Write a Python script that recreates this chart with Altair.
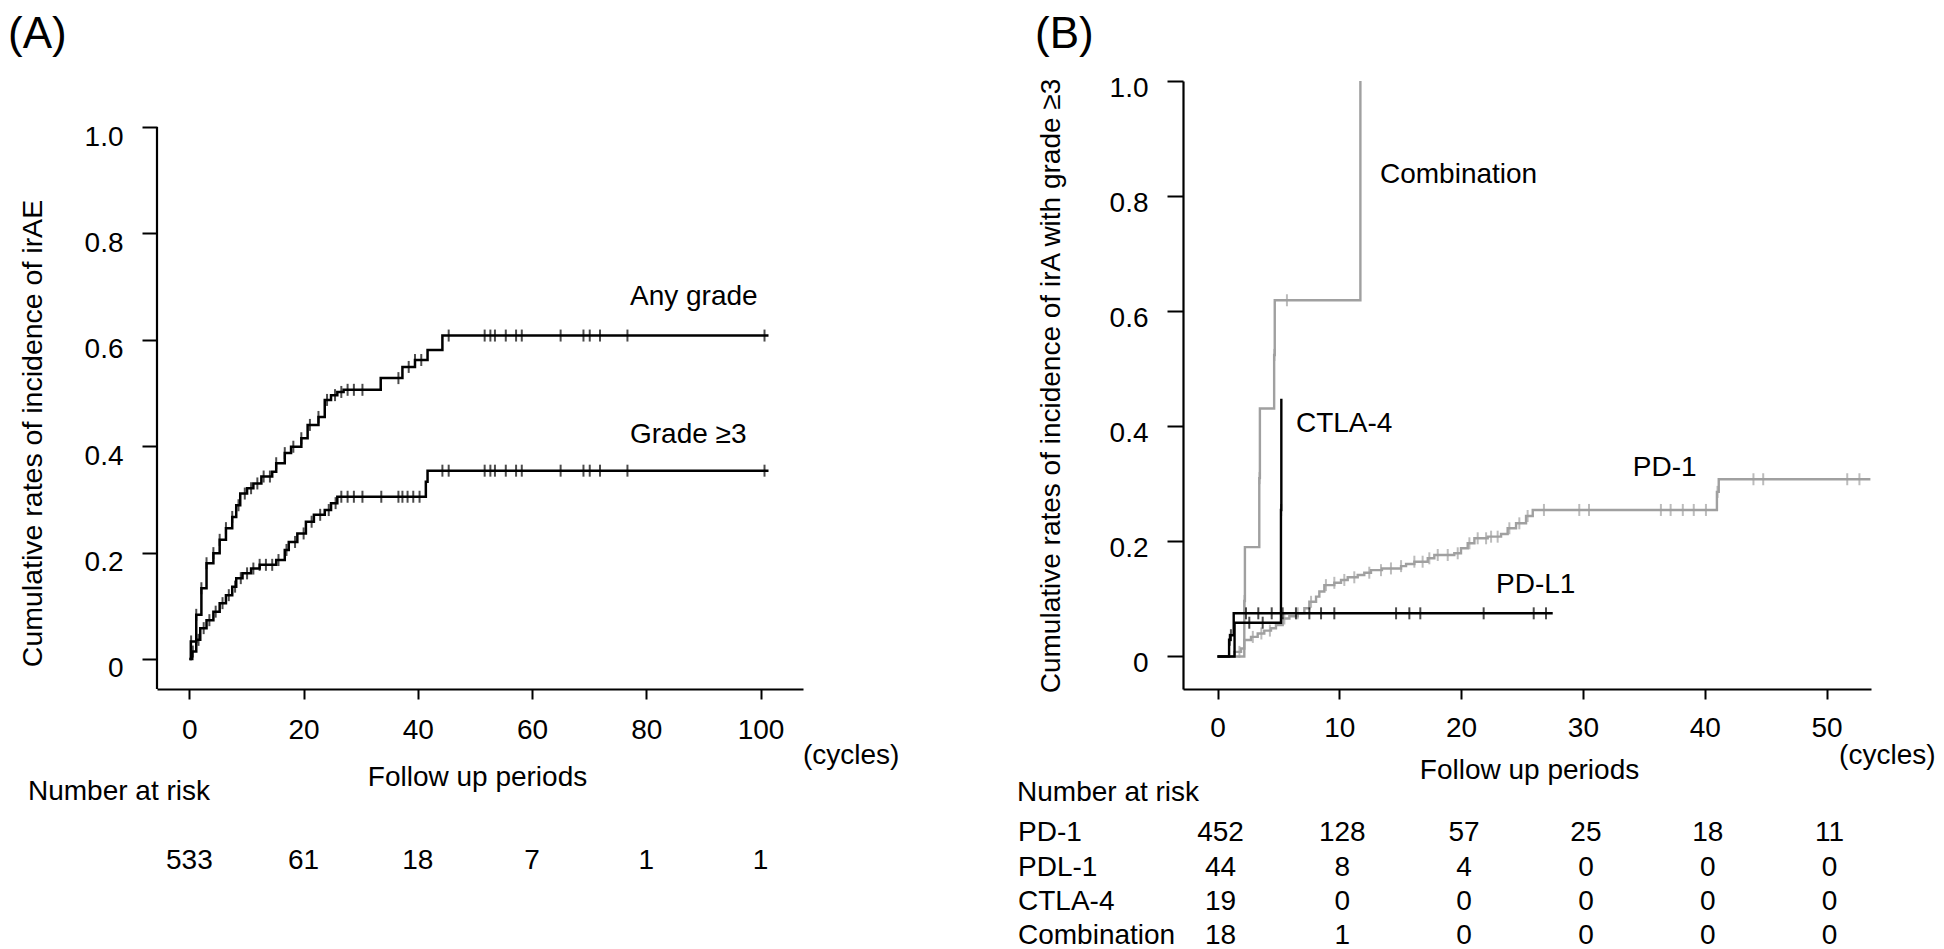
import altair as alt
import pandas as pd

FONT = "Liberation Sans"
GRAY = "#a0a0a0"

# ---------------- Panel A data ----------------
a_any_t = [0, 0.25, 1.2, 2.1, 3.0, 4.2, 5.3, 6.4, 7.5, 8.2, 8.9, 10.1, 11.2, 12.6, 14.5, 15.2,
           16.7, 17.8, 19.6, 20.7, 22.6, 23.7, 24.8, 25.9, 27.0, 33.5, 37.3, 39.5, 41.7, 44.3, 101.4]
a_any_v = [0, 0.033, 0.083, 0.133, 0.18, 0.199, 0.224, 0.246, 0.267, 0.289, 0.311, 0.321, 0.330,
           0.343, 0.352, 0.368, 0.387, 0.399, 0.415, 0.44, 0.455, 0.487, 0.496, 0.502, 0.506, 0.528,
           0.549, 0.562, 0.581, 0.608, 0.608]
a_any_cens = [0.3, 1.2, 2.1, 3.0, 4.2, 5.3, 6.4, 7.5, 8.6, 9.7, 10.8, 11.9, 13.0, 14.1, 15.2, 16.7,
              18.2, 19.6, 21.1, 22.6, 24.1, 25.5, 26.6, 27.7, 28.8, 30.3, 36.6, 38.4, 39.5, 40.6,
              45.4, 51.7, 52.7, 53.5, 55.4, 57.2, 58.2, 65.0, 69.0, 70.1, 71.9, 76.7, 100.7]

a_g3_t = [0, 0.5, 1.2, 1.9, 3.0, 4.2, 5.3, 6.4, 7.5, 8.2, 9.3, 10.8, 12.3, 15.2, 16.7, 17.4, 18.9,
          20.4, 21.8, 23.7, 24.8, 25.9, 41.4, 41.7, 101.4]
a_g3_v = [0, 0.014, 0.036, 0.058, 0.073, 0.089, 0.105, 0.12, 0.136, 0.152, 0.161, 0.17, 0.177,
          0.186, 0.205, 0.22, 0.236, 0.258, 0.271, 0.28, 0.293, 0.305, 0.333, 0.354, 0.354]
a_g3_cens = [0.6, 1.6, 2.5, 3.5, 4.6, 5.8, 6.9, 8.0, 9.0, 10.1, 11.2, 12.3, 13.4, 14.5, 15.6, 17.0,
             18.5, 20.0, 21.4, 22.9, 24.4, 25.6, 26.6, 27.7, 28.8, 30.3, 33.6, 36.6, 37.3, 38.2,
             39.2, 40.3, 44.3, 45.4, 51.7, 52.7, 53.5, 55.4, 57.2, 58.2, 65.0, 69.0, 70.1, 71.9,
             76.7, 100.7]

a_risk_times = [0, 20, 40, 60, 80, 100]
a_risk_counts = [533, 61, 18, 7, 1, 1]

# ---------------- Panel B data ----------------
pd1_t = [0, 1.38, 1.93, 2.20, 2.75, 3.30, 3.84, 4.39, 4.80, 5.35, 5.90, 6.58, 7.13, 7.54, 8.09,
         8.36, 8.77, 9.59, 10.14, 10.69, 11.51, 12.05, 12.60, 13.5, 15.07, 15.48, 16.16, 17.26,
         17.80, 19.44, 19.99, 20.54, 21.09, 22.18, 23.28, 23.82, 24.51, 25.33, 25.88, 41.0, 41.15,
         53.6]
pd1_v = [0, 0.008, 0.014, 0.0287, 0.034, 0.040, 0.045, 0.049, 0.0547, 0.066, 0.070, 0.075, 0.0837,
         0.095, 0.104, 0.113, 0.124, 0.128, 0.133, 0.1376, 0.1416, 0.1456, 0.150, 0.153, 0.157,
         0.1607, 0.1647, 0.1706, 0.1764, 0.1793, 0.188, 0.1967, 0.2054, 0.2082, 0.2129, 0.2228,
         0.2314, 0.2441, 0.2546, 0.286, 0.308, 0.308]
pd1_cens = [1.8, 2.9, 3.6, 4.3, 5.49, 6.58, 7.68, 8.9, 9.59, 10.41, 11.23, 12.46, 13.42, 14.24,
            15.07, 16.16, 16.84, 17.39, 18.08, 18.9, 19.72, 20.68, 21.36, 22.05, 22.46, 23.0, 23.96,
            24.78, 25.46, 26.8, 29.7, 30.5, 36.4, 37.2, 38.2, 39.1, 40.1, 41.05, 44.0, 44.8, 51.7,
            52.7]

pdl1_t = [0, 0.95, 1.05, 1.33, 27.52]
pdl1_v = [0, 0.029, 0.037, 0.075, 0.075]
pdl1_cens = [1.0, 1.1, 2.34, 3.35, 4.45, 5.35, 6.44, 7.54, 8.50, 9.59, 14.66, 15.75, 16.65, 21.85,
             25.96, 26.97]

ctla4_t = [0, 1.4, 5.21, 5.24]
ctla4_v = [0, 0.0587, 0.2546, 0.448]
ctla4_cens = [2.61, 3.71, 5.22]

comb_t = [0, 2.2, 2.25, 3.43, 3.48, 4.65, 4.70, 11.73]
comb_v = [0, 0.0964, 0.19, 0.31, 0.431, 0.524, 0.619, 1.0]
comb_cens = [2.22, 3.45, 4.67, 5.7]

b_risk_times = [0, 10, 20, 30, 40, 50]
b_risk_groups = ["PD-1", "PDL-1", "CTLA-4", "Combination"]
b_risk_counts = [
    [452, 128, 57, 25, 18, 11],
    [44, 8, 4, 0, 0, 0],
    [19, 0, 0, 0, 0, 0],
    [18, 1, 0, 0, 0, 0],
]

y_ticks = [0, 0.2, 0.4, 0.6, 0.8, 1.0]
a_x_ticks = [0, 20, 40, 60, 80, 100]
b_x_ticks = [0, 10, 20, 30, 40, 50]


# ---------------- helpers ----------------
def steps_df(ts, vs, name):
    return pd.DataFrame({"t": ts, "v": vs, "curve": name})


def step_at(ts, vs, t):
    val = vs[0]
    for ti, vi in zip(ts, vs):
        if ti <= t:
            val = vi
    return val


def cens_df(cens, ts, vs, name):
    return pd.DataFrame({"t": cens, "v": [step_at(ts, vs, c) for c in cens], "curve": name})


LABEL_EXPR = "datum.value == 0 ? '0' : format(datum.value, '.1f')"
LW = 2.5
TICK = 12

# ---------------- Panel A ----------------
xA_dom = [-5.673, 107.44]
yA_dom = [-0.0564, 1.0865]
xA = alt.Scale(domain=xA_dom, nice=False, zero=False)
yA = alt.Scale(domain=yA_dom, nice=False, zero=False)

axis_xA = alt.Axis(values=a_x_ticks, tickSize=10, tickWidth=2, domainWidth=2.2, labelFontSize=28,
                   labelBaseline="alphabetic", labelPadding=39, labelFlush=False,
                   labelOverlap=False, title="Follow up periods", titleFontSize=28,
                   titleFontWeight="normal", titleX=320, titleY=96, titleAlign="center",
                   titleBaseline="alphabetic", grid=False)
axis_yA = alt.Axis(values=y_ticks, tickSize=15, tickWidth=2, domain=False, labelFontSize=28,
                   labelBaseline="alphabetic", labelPadding=19, labelOffset=18,
                   labelExpr=LABEL_EXPR, labelOverlap=False, labelFlush=False,
                   title="Cumulative rates of incidence of irAE", titleFontSize=28.5,
                   titleFontWeight="normal", titleAngle=270, titleX=-125, titleY=352,
                   titleAlign="center", titleBaseline="middle", grid=False)

a_lines = pd.concat([steps_df(a_any_t, a_any_v, "any"), steps_df(a_g3_t, a_g3_v, "g3")])
a_cens = pd.concat([cens_df(a_any_cens, a_any_t, a_any_v, "any"),
                    cens_df(a_g3_cens, a_g3_t, a_g3_v, "g3")])

A_lines = alt.Chart(a_lines).mark_line(interpolate="step-after", strokeWidth=LW, color="black").encode(
    x=alt.X("t:Q", scale=xA, axis=axis_xA),
    y=alt.Y("v:Q", scale=yA, axis=axis_yA),
    detail="curve:N",
)
A_cens = alt.Chart(a_cens).mark_tick(orient="vertical", size=TICK, thickness=2, color="black").encode(
    x=alt.X("t:Q", scale=xA), y=alt.Y("v:Q", scale=yA)
)
A_yline = alt.Chart(pd.DataFrame({"t": [xA_dom[0]], "v": [yA_dom[0]], "v2": [1.0]})).mark_rule(
    strokeWidth=2.2, color="black").encode(
    x=alt.X("t:Q", scale=xA), y=alt.Y("v:Q", scale=yA), y2="v2:Q")

a_notes = pd.DataFrame({
    "label": ["Any grade", "Grade ≥3", "(cycles)", "Number at risk"],
    "t": [77.15, 77.15, 107.44, -28.26],
    "v": [0.6654, 0.4055, -0.1974, -0.265],
})
A_notes = alt.Chart(a_notes).mark_text(align="left", baseline="alphabetic", fontSize=28,
                                       color="black").encode(
    x=alt.X("t:Q", scale=xA), y=alt.Y("v:Q", scale=yA), text="label:N")
A_risk = alt.Chart(pd.DataFrame({"t": a_risk_times, "n": a_risk_counts, "v": -0.3947})).mark_text(
    align="center", baseline="alphabetic", fontSize=28, color="black").encode(
    x=alt.X("t:Q", scale=xA), y=alt.Y("v:Q", scale=yA), text="n:Q")
A_tag = alt.Chart(pd.DataFrame({"label": ["(A)"], "t": [-31.76], "v": [(659 - 48.0) / 532]})).mark_text(
    align="left", baseline="alphabetic", fontSize=44, color="black").encode(
    x=alt.X("t:Q", scale=xA), y=alt.Y("v:Q", scale=yA), text="label:N")

panelA = alt.layer(A_lines, A_cens, A_yline, A_notes, A_risk, A_tag).properties(width=646, height=608)

# ---------------- Panel B ----------------
xB_dom = [-2.833, 53.65]
yB_dom = [-0.0565, 1.0]
xB = alt.Scale(domain=xB_dom, nice=False, zero=False)
yB = alt.Scale(domain=yB_dom, nice=False, zero=False)

axis_xB = alt.Axis(values=b_x_ticks, tickSize=10, tickWidth=2, domainWidth=2.2, labelFontSize=28,
                   labelBaseline="alphabetic", labelPadding=37, labelFlush=False,
                   labelOverlap=False, title="Follow up periods", titleFontSize=28,
                   titleFontWeight="normal", titleX=346, titleY=89, titleAlign="center",
                   titleBaseline="alphabetic", grid=False)
axis_yB = alt.Axis(values=y_ticks, tickSize=16, tickWidth=2, domainWidth=2.2, labelFontSize=28,
                   labelBaseline="alphabetic", labelPadding=19, labelOffset=15,
                   labelExpr=LABEL_EXPR, labelOverlap=False, labelFlush=False,
                   title="Cumulative rates of incidence of irA with grade ≥3", titleFontSize=28,
                   titleFontWeight="normal", titleAngle=270, titleX=-132, titleY=304.5,
                   titleAlign="center", titleBaseline="middle", grid=False)

b_gray = pd.concat([steps_df(pd1_t, pd1_v, "PD-1"), steps_df(comb_t, comb_v, "Combination")])
b_black = pd.concat([steps_df(pdl1_t, pdl1_v, "PD-L1"), steps_df(ctla4_t, ctla4_v, "CTLA-4")])
b_gray_c = pd.concat([cens_df(pd1_cens, pd1_t, pd1_v, "PD-1"),
                      cens_df(comb_cens, comb_t, comb_v, "Combination")])
b_black_c = pd.concat([cens_df(pdl1_cens, pdl1_t, pdl1_v, "PD-L1"),
                       cens_df(ctla4_cens, ctla4_t, ctla4_v, "CTLA-4")])

B_gray = alt.Chart(b_gray).mark_line(interpolate="step-after", strokeWidth=2.4, color=GRAY).encode(
    x=alt.X("t:Q", scale=xB, axis=axis_xB),
    y=alt.Y("v:Q", scale=yB, axis=axis_yB),
    detail="curve:N",
)
B_gray_c = alt.Chart(b_gray_c).mark_tick(orient="vertical", size=TICK, thickness=2, color=GRAY).encode(
    x=alt.X("t:Q", scale=xB), y=alt.Y("v:Q", scale=yB))
B_black = alt.Chart(b_black).mark_line(interpolate="step-after", strokeWidth=2.4, color="black").encode(
    x=alt.X("t:Q", scale=xB), y=alt.Y("v:Q", scale=yB), detail="curve:N")
B_black_c = alt.Chart(b_black_c).mark_tick(orient="vertical", size=TICK, thickness=2, color="black").encode(
    x=alt.X("t:Q", scale=xB), y=alt.Y("v:Q", scale=yB))

b_notes = pd.DataFrame({
    "label": ["Combination", "CTLA-4", "PD-1", "PD-L1", "(cycles)", "Number at risk"]
             + b_risk_groups,
    "t": [13.34, 6.44, 34.1, 22.87, 51.03, -16.46] + [-16.38] * 4,
    "v": [0.8228, 0.3903, 0.3128, 0.111, -0.1868, -0.2511, -0.3205, -0.3813, -0.4404, -0.4995],
})
B_notes = alt.Chart(b_notes).mark_text(align="left", baseline="alphabetic", fontSize=28,
                                       color="black").encode(
    x=alt.X("t:Q", scale=xB), y=alt.Y("v:Q", scale=yB), text="label:N")

row_v = [-0.3205, -0.3813, -0.4404, -0.4995]
risk_rows = []
for g, counts, rv in zip(b_risk_groups, b_risk_counts, row_v):
    for t, n in zip(b_risk_times, counts):
        risk_rows.append({"group": g, "t": t, "n": n, "v": rv})
B_risk = alt.Chart(pd.DataFrame(risk_rows)).mark_text(
    align="center", baseline="alphabetic", fontSize=28, color="black", dx=3).encode(
    x=alt.X("t:Q", scale=xB), y=alt.Y("v:Q", scale=yB), text="n:Q")
B_tag = alt.Chart(pd.DataFrame({"label": ["(B)"], "t": [-14.98], "v": [(656.5 - 48.0) / 575.5]})).mark_text(
    align="left", baseline="alphabetic", fontSize=44, color="black").encode(
    x=alt.X("t:Q", scale=xB), y=alt.Y("v:Q", scale=yB), text="label:N")

panelB = alt.layer(B_gray, B_gray_c, B_black, B_black_c, B_notes, B_risk, B_tag).properties(
    width=688, height=608)

chart = alt.hconcat(panelA, panelB, spacing=117).properties(
    padding={"left": 0, "top": 5, "right": 0, "bottom": 0}).configure(
    font=FONT).configure_view(stroke=None).configure_axis(
    labelColor="black", titleColor="black", domainColor="black", tickColor="black",
    labelFont=FONT, titleFont=FONT)

chart.save("out.html", embed_options={"renderer": "svg", "actions": False})
